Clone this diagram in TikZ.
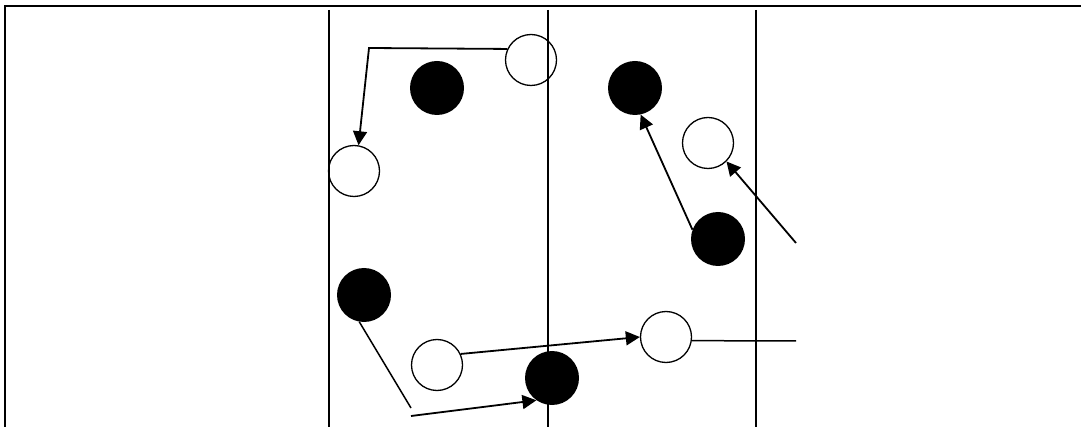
\documentclass[tikz,border=0pt]{standalone}
\usepackage{tikz}
\usetikzlibrary{arrows.meta}

\begin{document}
\begin{tikzpicture}[x=1pt,y=-1pt,
    wball/.style={circle,draw,line width=1.3pt,minimum size=51pt,inner sep=0pt},
    bball/.style={circle,fill=black,minimum size=54pt,inner sep=0pt},
    arr/.style={-{Triangle[length=14pt,width=14pt]},line width=1.8pt},
    lane/.style={line width=1.5pt}]
    \useasboundingbox (0,0) rectangle (1081,427);
    % frame
    \draw[line width=2pt] (5,427) -- (5,6) -- (1081,6);
    % balls
    \node[wball] (w1) at (531,60) {};
    \node[wball] (w2) at (354,171) {};
    \node[wball] (w3) at (708,143) {};
    \node[wball] (w4) at (437,365) {};
    \node[wball] (w5) at (666,337) {};
    \node[bball] (b1) at (437,88) {};
    \node[bball] (b2) at (635,88) {};
    \node[bball] (b3) at (718,239) {};
    \node[bball] (b4) at (364,295) {};
    \node[bball] (b5) at (552,378) {};
    % lanes
    \foreach \lx/\ln in {329/l1,548/l2,756/l3}
      \draw[lane] (\lx,10) coordinate (\ln) -- (\lx,427);
    % moves
    \coordinate (k1) at (369,48);
    \coordinate (k3) at (796,243);
    \coordinate (k4) at (411,408);
    \coordinate (k5) at (411,416);
    \coordinate (k6) at (796,341);
    \draw[arr] (w1.155) -- (k1) -- (w2.80);
    \draw[arr] (b3.160) -- (b2.-78);
    \draw[arr] (k3) -- (w3.-45);
    \draw[line width=1.5pt] (b4.-100) -- (k4);
    \draw[arr] (k5) -- (b5.-125);
    \draw[arr] (w4.25) -- (w5.west);
    \draw[line width=1.5pt] (w5.-8) -- (k6);
  \end{tikzpicture}
\end{document}
